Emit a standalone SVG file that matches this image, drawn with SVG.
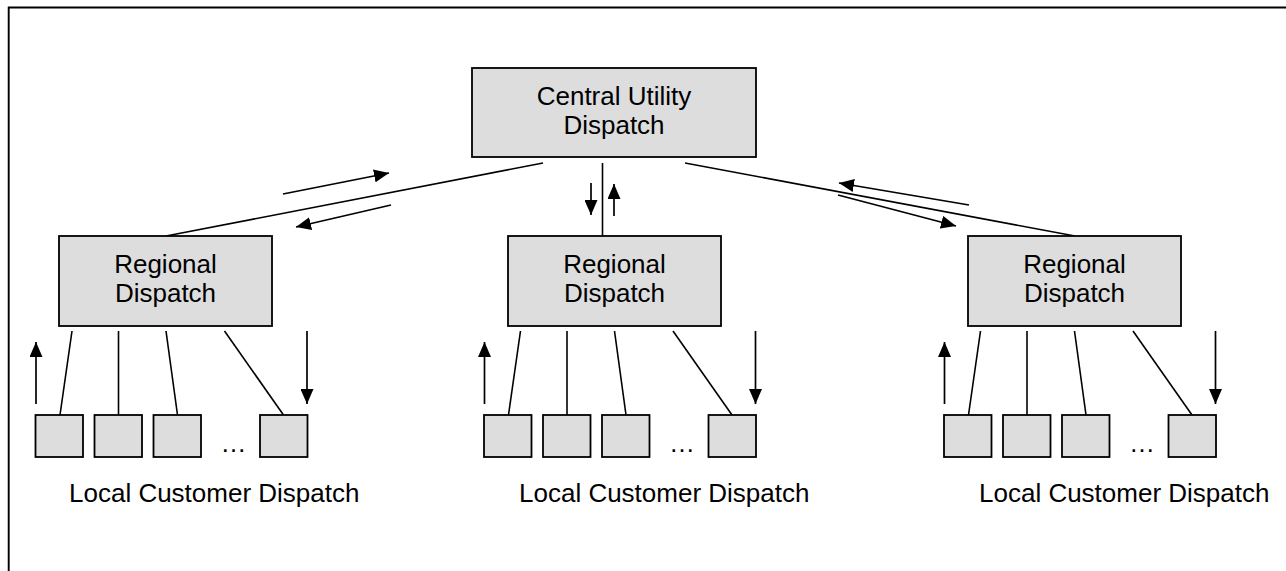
<svg xmlns="http://www.w3.org/2000/svg" width="1286" height="571" viewBox="0 0 1286 571">
<style>
.box{fill:#dddddd;stroke:#000;stroke-width:1.8}
.ln{stroke:#000;stroke-width:1.6;fill:none}
.ar{stroke:#000;stroke-width:1.7;fill:none;marker-end:url(#ah)}
text{font-family:"Liberation Sans",Arial,sans-serif;font-size:26px;fill:#000}
.c{text-anchor:middle}
</style>
<defs>
<marker id="ah" viewBox="0 0 15 13" refX="15" refY="6.5" markerWidth="15" markerHeight="13" markerUnits="userSpaceOnUse" orient="auto">
<path d="M0,0 L15,6.5 L0,13 z" fill="#000"/>
</marker>
</defs>
<rect width="1286" height="571" fill="#fff"/>
<g id="frame">
<path d="M8.7,571 V7.5 H1286" stroke="#000" stroke-width="1.9" fill="none"/>
</g>
<g id="connectors">
<line class="ln" x1="543" y1="163" x2="166" y2="236"/>
<line class="ln" x1="602.5" y1="163" x2="602.5" y2="236"/>
<line class="ln" x1="685" y1="163" x2="1075" y2="236"/>
<line class="ar" x1="283" y1="194" x2="389" y2="173"/>
<line class="ar" x1="391" y1="205" x2="296" y2="227"/>
<line class="ar" x1="591" y1="183" x2="591" y2="215"/>
<line class="ar" x1="614" y1="216" x2="614" y2="184"/>
<line class="ar" x1="969" y1="205" x2="839" y2="183"/>
<line class="ar" x1="838" y1="195" x2="956" y2="226"/>
<g id="conn-left">
<line class="ln" x1="72" y1="331" x2="60" y2="415"/>
<line class="ln" x1="118.5" y1="331" x2="118.5" y2="415"/>
<line class="ln" x1="166" y1="331" x2="177.5" y2="415"/>
<line class="ln" x1="224.5" y1="331" x2="283.5" y2="415"/>
<line class="ar" x1="36" y1="404" x2="36" y2="342"/>
<line class="ar" x1="307" y1="331" x2="307" y2="404"/>
</g>
<g id="conn-mid" transform="translate(448.5,0)">
<line class="ln" x1="72" y1="331" x2="60" y2="415"/>
<line class="ln" x1="118.5" y1="331" x2="118.5" y2="415"/>
<line class="ln" x1="166" y1="331" x2="177.5" y2="415"/>
<line class="ln" x1="224.5" y1="331" x2="283.5" y2="415"/>
<line class="ar" x1="36" y1="404" x2="36" y2="342"/>
<line class="ar" x1="307" y1="331" x2="307" y2="404"/>
</g>
<g id="conn-right" transform="translate(908.5,0)">
<line class="ln" x1="72" y1="331" x2="60" y2="415"/>
<line class="ln" x1="118.5" y1="331" x2="118.5" y2="415"/>
<line class="ln" x1="166" y1="331" x2="177.5" y2="415"/>
<line class="ln" x1="224.5" y1="331" x2="283.5" y2="415"/>
<line class="ar" x1="36" y1="404" x2="36" y2="342"/>
<line class="ar" x1="307" y1="331" x2="307" y2="404"/>
</g>
</g>
<g id="central">
<rect class="box" x="472" y="68" width="284" height="89"/>
<text class="c" x="614" y="105">Central Utility</text>
<text class="c" x="614" y="134">Dispatch</text>
</g>
<g id="regional-left">
<rect class="box" x="59" y="236" width="213" height="90"/>
<text class="c" x="165.5" y="273">Regional</text>
<text class="c" x="165.5" y="302">Dispatch</text>
</g>
<g id="regional-mid">
<rect class="box" x="508" y="236" width="213" height="90"/>
<text class="c" x="614.5" y="273">Regional</text>
<text class="c" x="614.5" y="302">Dispatch</text>
</g>
<g id="regional-right">
<rect class="box" x="968" y="236" width="213" height="90"/>
<text class="c" x="1074.5" y="273">Regional</text>
<text class="c" x="1074.5" y="302">Dispatch</text>
</g>
<g id="local-left">
<rect class="box" x="35.5" y="415" width="47.5" height="42"/>
<rect class="box" x="94.5" y="415" width="47.5" height="42"/>
<rect class="box" x="153.5" y="415" width="47.5" height="42"/>
<rect class="box" x="260" y="415" width="47.5" height="42"/>
<text class="c" x="233.5" y="452">…</text>
<text x="69" y="502">Local Customer Dispatch</text>
</g>
<g id="local-mid">
<rect class="box" x="484" y="415" width="47.5" height="42"/>
<rect class="box" x="543" y="415" width="47.5" height="42"/>
<rect class="box" x="602" y="415" width="47.5" height="42"/>
<rect class="box" x="708.5" y="415" width="47.5" height="42"/>
<text class="c" x="682" y="452">…</text>
<text x="519" y="502">Local Customer Dispatch</text>
</g>
<g id="local-right">
<rect class="box" x="944" y="415" width="47.5" height="42"/>
<rect class="box" x="1003" y="415" width="47.5" height="42"/>
<rect class="box" x="1062" y="415" width="47.5" height="42"/>
<rect class="box" x="1168.5" y="415" width="47.5" height="42"/>
<text class="c" x="1142" y="452">…</text>
<text x="979" y="502">Local Customer Dispatch</text>
</g>
</svg>
